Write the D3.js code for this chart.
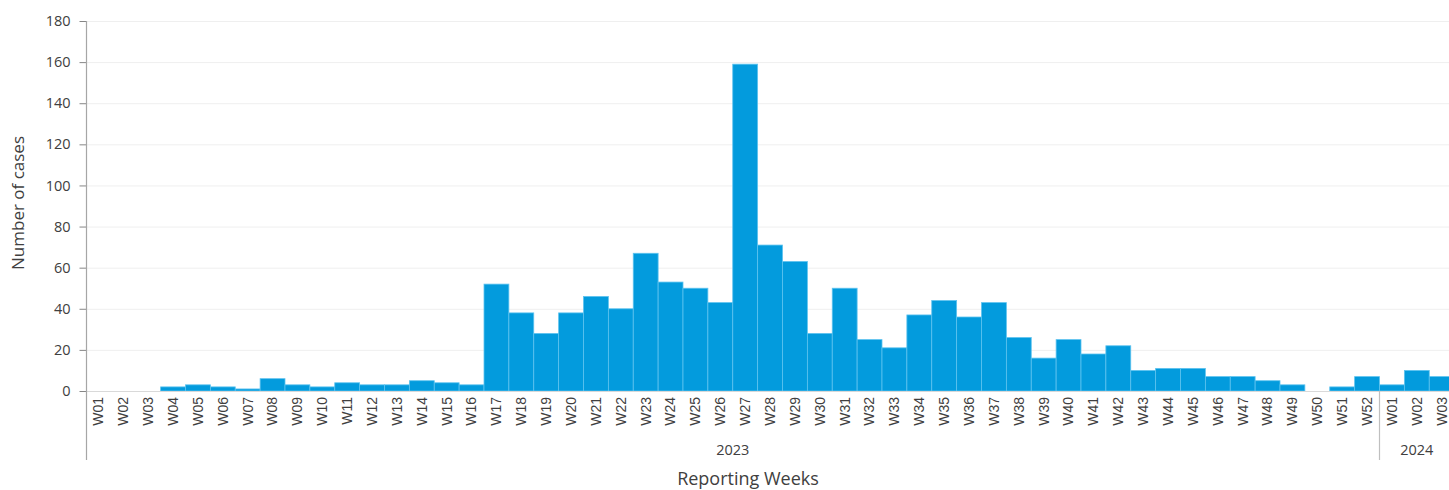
<!DOCTYPE html>
<html>
<head>
<meta charset="utf-8">
<script src="https://cdn.jsdelivr.net/npm/d3@7"></script>
<style>
  html, body { margin: 0; padding: 0; background: #fff; overflow: hidden; }
  svg { display: block; font-family: "Open Sans", Lato, "Liberation Sans", sans-serif; }
</style>
</head>
<body>
<svg id="chart" width="1449" height="490"></svg>
<script>
const weeks2023 = ["W01","W02","W03","W04","W05","W06","W07","W08","W09","W10","W11","W12","W13","W14","W15","W16","W17","W18","W19","W20","W21","W22","W23","W24","W25","W26","W27","W28","W29","W30","W31","W32","W33","W34","W35","W36","W37","W38","W39","W40","W41","W42","W43","W44","W45","W46","W47","W48","W49","W50","W51","W52"];
const cases2023 = [0,0,0,2,3,2,1,6,3,2,4,3,3,5,4,3,52,38,28,38,46,40,67,53,50,43,159,71,63,28,50,25,21,37,44,36,43,26,16,25,18,22,10,11,11,7,7,5,3,0,2,7];
const weeks2024 = ["W01","W02","W03"];
const cases2024 = [3,10,7];
const years = ["2023","2024"];
const yTicks = [0,20,40,60,80,100,120,140,160,180];

const data = [];
weeks2023.forEach((w,i) => data.push({key:"2023-"+w, week:w, year:"2023", value:cases2023[i]}));
weeks2024.forEach((w,i) => data.push({key:"2024-"+w, week:w, year:"2024", value:cases2024[i]}));

const svg = d3.select("#chart");
const mLeft = 86, mTop = 21, mBottom = 391;
const step = 24.875;
const mRight = mLeft + step * data.length;

const x = d3.scaleBand().domain(data.map(d => d.key)).range([mLeft, mRight]).paddingInner(0).paddingOuter(0);
const y = d3.scaleLinear().domain([0,180]).range([mBottom, mTop]);

// gridlines
svg.append("g").selectAll("line").data(yTicks.filter(t => t > 0)).join("line")
  .attr("x1", mLeft).attr("x2", mRight)
  .attr("y1", d => y(d) + 0.5).attr("y2", d => y(d) + 0.5)
  .attr("stroke", "#efefef").attr("stroke-width", 1);

// bars
svg.append("g").selectAll("rect").data(data.filter(d => d.value > 0)).join("rect")
  .attr("x", d => x(d.key))
  .attr("width", x.bandwidth())
  .attr("y", d => y(d.value))
  .attr("height", d => y(0) - y(d.value))
  .attr("fill", "#039BDD")
  .attr("stroke", "#5EC3EF")
  .attr("stroke-width", 0.8);

// baseline
svg.append("line").attr("x1", mLeft).attr("x2", mRight).attr("y1", mBottom + 0.5).attr("y2", mBottom + 0.5)
  .attr("stroke", "#d9d9d9").attr("stroke-width", 1);

// y axis
const yAxis = d3.axisLeft(y).tickValues(yTicks).tickSize(7).tickPadding(9);
const gy = svg.append("g").attr("transform", `translate(${mLeft + 0.5},0)`).call(yAxis);
gy.select(".domain").remove();
gy.selectAll(".tick line").attr("stroke", "#868686");
gy.selectAll(".tick text").attr("fill", "#404040").style("font-size", "14.5px")
  .style("font-family", "'Open Sans', sans-serif");
svg.append("line").attr("x1", mLeft + 0.5).attr("x2", mLeft + 0.5).attr("y1", mTop).attr("y2", 460)
  .attr("stroke", "#a6a6a6").attr("stroke-width", 1.2);

// x tick labels
const gx = svg.append("g").attr("transform", `translate(0,${mBottom})`)
  .call(d3.axisBottom(x).tickSize(0).tickFormat(k => k.slice(5)));
gx.select(".domain").remove();
gx.selectAll(".tick text")
  .attr("transform", "rotate(-90)")
  .attr("x", -6).attr("y", 0).attr("dy", "0.35em")
  .style("text-anchor", "end")
  .attr("fill", "#404040")
  .style("font-size", "14px");

// year separator
const sep = x("2024-W01");
svg.append("line").attr("x1", sep).attr("x2", sep).attr("y1", mBottom).attr("y2", 460)
  .attr("stroke", "#bfbfbf").attr("stroke-width", 1.2);

// year labels
years.forEach(yr => {
  const ks = data.filter(d => d.year === yr);
  const x0 = x(ks[0].key), x1 = x(ks[ks.length-1].key) + x.bandwidth();
  svg.append("text").attr("x", (x0 + x1) / 2).attr("y", 455)
    .attr("text-anchor", "middle").attr("fill", "#404040").style("font-size", "14.5px").text(yr);
});

// axis titles
svg.append("text").attr("x", 748).attr("y", 485).attr("text-anchor", "middle")
  .attr("fill", "#404040").style("font-size", "18px").text("Reporting Weeks");
svg.append("text").attr("transform", "translate(24,203) rotate(-90)").attr("text-anchor", "middle")
  .attr("fill", "#404040").style("font-size", "17px").text("Number of cases");
</script>
</body>
</html>
